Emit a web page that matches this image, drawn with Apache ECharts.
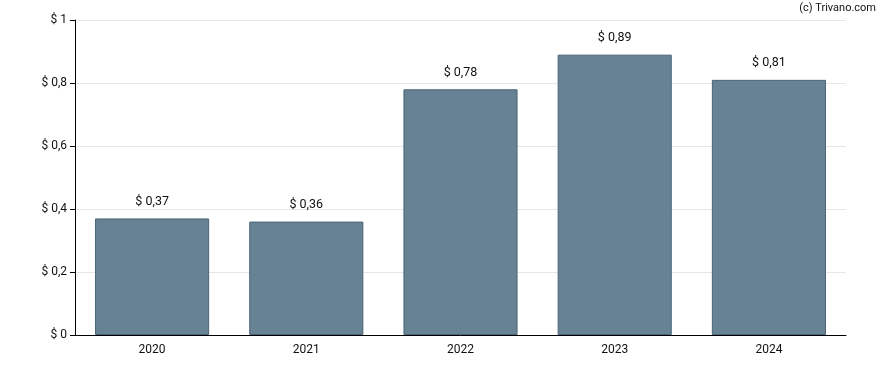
<!DOCTYPE html>
<html><head><meta charset="utf-8">
<script src="https://cdn.jsdelivr.net/npm/echarts@6/dist/echarts.min.js"></script>
<style>html,body{margin:0;padding:0;background:#fff}#c{width:888px;height:370px}</style>
</head><body><div id="c"></div>
<script>
const categories = ['2020','2021','2022','2023','2024'];
const values = [0.37, 0.36, 0.78, 0.89, 0.81];
const fmt = v => '$ ' + String(v).replace('.', ',');
const chart = echarts.init(document.getElementById('c'), null, {renderer:'canvas'});
chart.setOption({
  animation:false,
  textStyle:{fontFamily:'Roboto'},
  graphic:[{type:'text', right:12, top:3, style:{text:'(c) Trivano.com', font:'11px Roboto', fill:'#111'}}],
  grid:{left:75, right:42, top:20, bottom:35, containLabel:false},
  xAxis:{type:'category', data:categories,
    axisLine:{lineStyle:{color:'#000', width:1}},
    axisTick:{alignWithLabel:true, length:5, lineStyle:{color:'#000'}},
    axisLabel:{color:'#111', fontSize:12, margin:9, fontFamily:'Roboto'}},
  yAxis:{type:'value', min:0, max:1, interval:0.2,
    axisLine:{show:true, lineStyle:{color:'#000', width:1}},
    axisTick:{show:true, length:5, lineStyle:{color:'#000'}},
    splitLine:{lineStyle:{color:'#e6e6e6'}},
    axisLabel:{color:'#111', fontSize:12, margin:8, fontFamily:'Roboto', formatter:v=>fmt(+v.toFixed(1))}},
  series:[{type:'bar', data:values, barWidth:'74%',
    itemStyle:{color:'#668293', borderColor:'#4a6478', borderWidth:1},
    label:{show:true, position:'top', distance:10, color:'#111', fontSize:12.5, fontFamily:'Roboto', formatter:p=>fmt(p.value)}}]
});
</script></body></html>
